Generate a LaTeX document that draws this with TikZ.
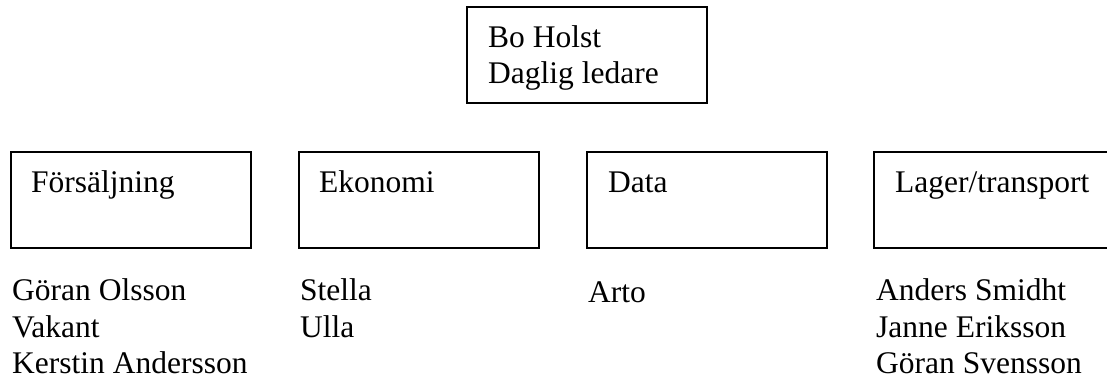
\documentclass[tikz,border=0pt]{standalone}
\usepackage{fontspec}
\setmainfont{Liberation Serif}
\begin{document}
\begin{tikzpicture}[x=1pt,y=-1pt,
  unitbox/.style={draw=black,line width=1.6pt},
  lbl/.style={anchor=base west,inner sep=0pt,font=\fontsize{31.5}{36.5}\selectfont},
  staff/.style={anchor=north west,inner sep=0pt,align=left,font=\fontsize{31.5}{36.5}\selectfont}]
  \useasboundingbox (0,0) rectangle (1107,378);
  % manager
  \draw[unitbox] (467,7) rectangle (707,103);
  \node[lbl] (boss) at (488,47) {Bo Holst};
  \node[lbl] (role) at (488,83) {Daglig ledare};
  % departments
  \draw[unitbox] (11,152) rectangle (251,248);
  \draw[unitbox] (299,152) rectangle (539,248);
  \draw[unitbox] (587,152) rectangle (827,248);
  \begin{scope}
    \clip (0,0) rectangle (1107,378);
    \draw[unitbox] (874,152) rectangle (1114,248);
  \end{scope}
  \node[lbl] (salj) at (31,192) {Försäljning};
  \node[lbl] (eko) at (319,192) {Ekonomi};
  \node[lbl] (data) at (608,192) {Data};
  \node[lbl] (lager) at (895,192) {Lager/transport};
  % staff per department
  \node[lbl] (s1) at (12,300) {Göran Olsson};
  \node[lbl] (s2) at (12,337) {Vakant};
  \node[lbl] (s3) at (12,373) {Kerstin Andersson};
  \node[lbl] (e1) at (300,300) {Stella};
  \node[lbl] (e2) at (300,337) {Ulla};
  \node[lbl] (d1) at (588,302) {Arto};
  \node[lbl] (l1) at (876,300) {Anders Smidht};
  \node[lbl] (l2) at (876,337) {Janne Eriksson};
  \node[lbl] (l3) at (876,373) {Göran Svensson};
\end{tikzpicture}
\end{document}
